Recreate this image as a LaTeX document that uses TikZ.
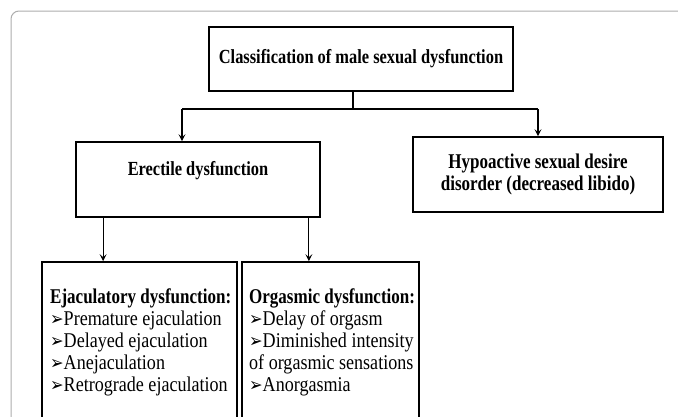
\documentclass[tikz,border=0pt]{standalone}
\usepackage{fontspec}
\setmainfont{Liberation Serif}[FakeStretch=0.82]
\newfontfamily\lowreg{Liberation Serif}[FakeStretch=0.86]
\newfontfamily\lowbold{Liberation Serif}[FakeStretch=0.81]
\newfontfamily\symfont{DejaVu Sans}[FakeStretch=0.85]
\usetikzlibrary{arrows.meta}
\newcommand\arrbul{{\symfont\fontsize{19}{19}\selectfont ➢}}
\newcommand\hd[1]{{\lowbold\bfseries #1}}
\begin{document}
\begin{tikzpicture}[x=1pt,y=-1pt,
 box/.style={draw=black, line width=1.7pt, rectangle, inner sep=0pt},
 txtlow/.style={font=\fontsize{21}{22}\selectfont\lowreg, inner sep=0pt},
 txtb/.style={font=\fontsize{20}{22}\selectfont\bfseries, inner sep=0pt},
 txthyp/.style={font=\fontsize{21}{22}\selectfont\lowbold\bfseries, inner sep=0pt},
 conn/.style={line width=1.2pt, -{Stealth[length=7pt,width=7pt,inset=3pt]}},
 ln/.style={line width=1.2pt}]
\clip (0,0) rectangle (678,416);
\fill[white] (0,0) rectangle (678,416);
\draw[black!32, line width=1pt, rounded corners=8pt] (11,440) -- (11,11) -- (700,11);

\node[box, txtb, minimum width=304pt, minimum height=64pt] (top) at (361,59) {Classification of male sexual dysfunction};
\node[box, minimum width=244pt, minimum height=75pt] (erect) at (198,179.5) {};
\node[txtb] (erectT) at (198,171) {Erectile dysfunction};
\node[box, txthyp, align=center, minimum width=250pt, minimum height=75pt] (hyp) at (538,174.5) {Hypoactive sexual desire\\disorder (decreased libido)};
\node[box, minimum width=195pt, minimum height=178pt] (ejac) at (139.5,351) {};
\node[box, minimum width=177pt, minimum height=178pt] (orgas) at (330.5,351) {};

\node[txtlow, anchor=north west, align=left] (ejacT) at (50,289) {\hd{Ejaculatory dysfunction:}\\\arrbul Premature ejaculation\\\arrbul Delayed ejaculation\\\arrbul Anejaculation\\\arrbul Retrograde ejaculation};
\node[txtlow, anchor=north west, align=left] (orgasT) at (249,289) {\hd{Orgasmic dysfunction:}\\\arrbul Delay of orgasm\\\arrbul Diminished intensity\\of orgasmic sensations\\\arrbul Anorgasmia};

\coordinate (j) at (353,109);
\coordinate (jl) at (182,109);
\coordinate (jr) at (538,109);
\draw[ln] (top.south -| j) -- (j);
\draw[ln] (jl) -- (jr);
\draw[conn] (jl) -- (jl |- erect.north);
\draw[conn] (jr) -- (hyp.north);
\draw[conn] ([xshift=28pt]erect.south west) -- ([xshift=28pt]erect.south west |- ejac.north);
\draw[conn] ([xshift=-12pt]erect.south east) -- ([xshift=-12pt]erect.south east |- orgas.north);
\end{tikzpicture}
\end{document}
